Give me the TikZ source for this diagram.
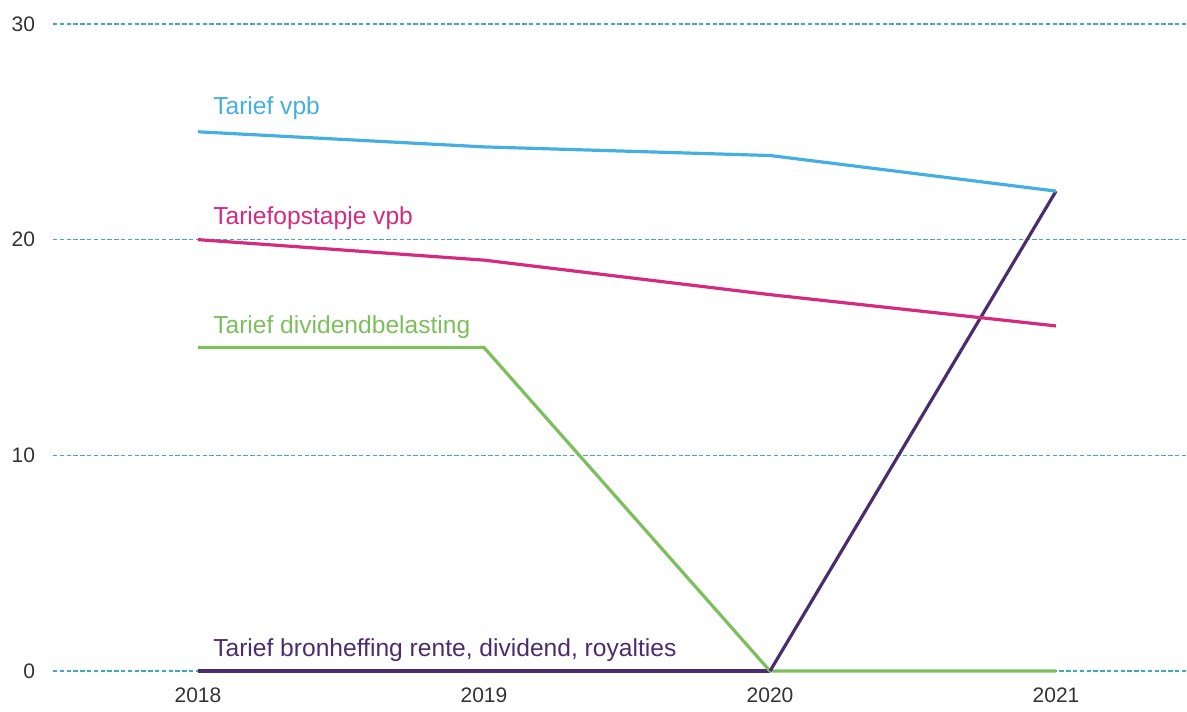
\documentclass[tikz,border=0pt]{standalone}
\usepackage{fontspec}
\setmainfont{Liberation Sans}
\usepackage{xcolor}
\usetikzlibrary{positioning}

\definecolor{gridteal}{HTML}{3FA9C2}
\definecolor{tickgray}{HTML}{333333}
\definecolor{vpbblue}{HTML}{45B0E0}
\definecolor{stepmagenta}{HTML}{D42A80}
\definecolor{divgreen}{HTML}{7DBF5C}
\definecolor{bronpurple}{HTML}{4B2D6E}

\begin{document}
\begin{tikzpicture}[
  x=143pt, y=10.785pt,
  tick/.style={font=\fontsize{10.5}{12}\selectfont, text=tickgray},
  serieslabel/.style={font=\fontsize{12.3}{14}\selectfont, anchor=base west, inner sep=0pt},
  series/.style={line width=1.6pt, line join=round},
]
  \useasboundingbox (-0.6923,-1.854) rectangle (3.458,31.11);

  % --- Grid ---
  \foreach \y in {0,10,20,30} {
    \draw[gridteal, line width=0.75pt, dash pattern=on 2.2pt off 1.2pt] (-0.507,\y) -- (3.458,\y);
    \node[tick, anchor=east] (tick\y) at (-0.545,\y) {\y};
  }
  \foreach \yr [count=\i from 0] in {2018,2019,2020,2021}
    \node[tick] (year\yr) at (\i,-1.11) {\yr};

  % --- Series ---
  \draw[series, bronpurple] (0,0) -- (1,0) -- (2,0);
  \draw[series, divgreen] (0,15) -- (1,15) -- (2,0) -- (3,0);
  \draw[series, bronpurple] (2,0) -- (3,22.25);
  \draw[series, vpbblue] (0,25) -- (1,24.3) -- (2,23.9) -- (3,22.25);
  \draw[series, stepmagenta] (0,20) -- (1,19.05) -- (2,17.45) -- (3,16);

  % --- Labels ---
  \node[serieslabel, text=vpbblue] (lblvpb) at (0.052,25.82) {Tarief vpb};
  \node[serieslabel, text=stepmagenta] (lblstep) at (0.052,20.72) {Tariefopstapje vpb};
  \node[serieslabel, text=divgreen] (lbldiv) at (0.052,15.67) {Tarief dividendbelasting};
  \node[serieslabel, text=bronpurple] (lblbron) at (0.052,0.66) {Tarief bronheffing rente, dividend, royalties};
\end{tikzpicture}
\end{document}
